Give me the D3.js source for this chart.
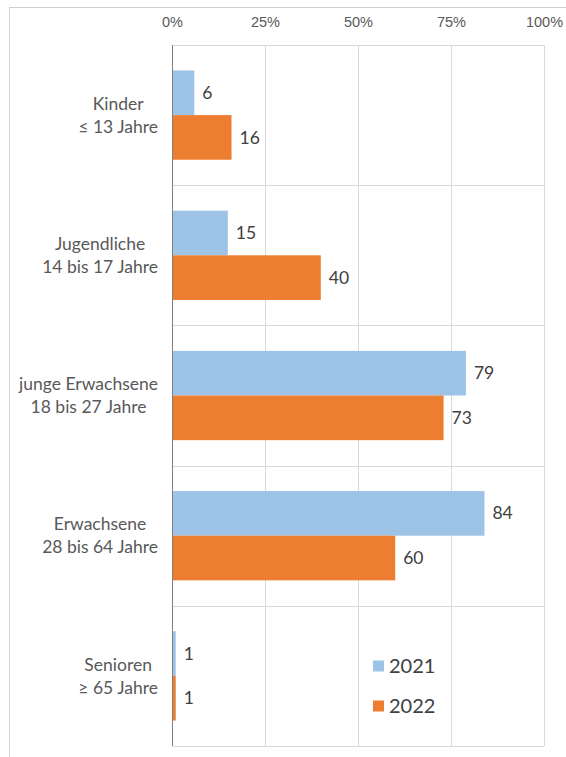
<!DOCTYPE html>
<html>
<head>
<meta charset="utf-8">
<script src="https://cdn.jsdelivr.net/npm/d3@7"></script>
<style>
  html, body { margin: 0; padding: 0; background: #fff; }
  svg { display: block; font-family: Lato, "Open Sans", sans-serif; }
</style>
</head>
<body>
<svg id="chart" width="566" height="757"></svg>
<script>
/* ---- data ------------------------------------------------------ */
const categories = [
  ["Kinder", "≤ 13 Jahre"],
  ["Jugendliche", "14 bis 17 Jahre"],
  ["junge Erwachsene", "18 bis 27 Jahre"],
  ["Erwachsene", "28 bis 64 Jahre"],
  ["Senioren", "≥ 65 Jahre"]
];
const seriesNames = ["2021", "2022"];
const values2021 = [6, 15, 79, 84, 1];
const values2022 = [16, 40, 73, 60, 1];
const tickValues = [0, 25, 50, 75, 100];
const colours = ["#9dc3e6", "#ed7d31"];

const series = [values2021, values2022];

/* ---- layout ---------------------------------------------------- */
const svg = d3.select("#chart");
const plot = { left: 172, right: 544, top: 45, bottom: 746 };

// outer frame (cut off at right/bottom like the source image)
svg.append("rect")
  .attr("x", 9.5).attr("y", 7.5)
  .attr("width", 600).attr("height", 800)
  .attr("fill", "none")
  .attr("stroke", "#d0d0d0");

const x = d3.scaleLinear([0, 100], [plot.left, plot.right]);
const y = d3.scaleBand(categories.map((d, i) => i), [plot.top, plot.bottom]);
const ySeries = d3.scaleBand(seriesNames, [0, y.bandwidth()])
  .paddingOuter(0.57);

/* ---- grid ------------------------------------------------------ */
const grid = svg.append("g").attr("stroke", "#d9d9d9").attr("stroke-width", 1);
grid.selectAll("line.v")
  .data(tickValues.slice(1))
  .join("line")
    .attr("x1", d => Math.round(x(d)) + 0.5)
    .attr("x2", d => Math.round(x(d)) + 0.5)
    .attr("y1", plot.top)
    .attr("y2", plot.bottom);
grid.selectAll("line.h")
  .data(d3.range(categories.length + 1))
  .join("line")
    .attr("x1", plot.left)
    .attr("x2", plot.right)
    .attr("y1", d => Math.round(plot.top + d * y.step()) + 0.5)
    .attr("y2", d => Math.round(plot.top + d * y.step()) + 0.5);

/* ---- top axis -------------------------------------------------- */
const axisG = svg.append("g")
  .attr("transform", `translate(0,${plot.top})`)
  .call(d3.axisTop(x).tickValues(tickValues).tickFormat(d => d + "%").tickSize(0).tickPadding(18));
axisG.select(".domain").remove();
axisG.selectAll("text")
  .attr("fill", "#595959")
  .attr("font-size", 14.5);

/* ---- bars ------------------------------------------------------ */
const groups = svg.append("g")
  .selectAll("g")
  .data(categories.map((c, i) => i))
  .join("g")
    .attr("transform", i => `translate(0,${y(i)})`);

groups.selectAll("rect")
  .data(i => seriesNames.map((s, k) => ({ s, k, v: series[k][i] })))
  .join("rect")
    .attr("x", x(0))
    .attr("y", d => ySeries(d.s))
    .attr("width", d => x(d.v) - x(0))
    .attr("height", ySeries.bandwidth())
    .attr("fill", d => colours[d.k]);

groups.selectAll("text.val")
  .data(i => seriesNames.map((s, k) => ({ s, k, v: series[k][i] })))
  .join("text")
    .attr("class", "val")
    .attr("x", d => x(d.v) + 8)
    .attr("y", d => ySeries(d.s) + ySeries.bandwidth() / 2)
    .attr("dy", "0.35em")
    .attr("fill", "#404040")
    .attr("font-size", 17.5)
    .text(d => d.v);

/* ---- 0 axis line ----------------------------------------------- */
svg.append("line")
  .attr("x1", x(0) + 0.5).attr("x2", x(0) + 0.5)
  .attr("y1", plot.top).attr("y2", plot.bottom)
  .attr("stroke", "#808080");

/* ---- category labels ------------------------------------------- */
const lab = svg.append("g")
  .selectAll("text")
  .data(categories)
  .join("text")
    .attr("text-anchor", "middle")
    .attr("fill", "#595959")
    .attr("font-size", 17.5);

lab.each(function (lines, i) {
  const t = d3.select(this);
  const cy = y(i) + y.bandwidth() / 2;
  lines.forEach((line, j) => {
    t.append("tspan")
      .attr("y", cy + (j - 0.5) * 23)
      .attr("dy", "0.35em")
      .text(line);
  });
  // block right-aligned at a fixed edge, lines centred inside it
  const w = d3.max(t.selectAll("tspan").nodes(), n => n.getComputedTextLength());
  t.selectAll("tspan").attr("x", 158 - w / 2);
});

/* ---- legend ---------------------------------------------------- */
const legend = svg.append("g")
  .selectAll("g")
  .data(seriesNames)
  .join("g")
    .attr("transform", (d, k) => `translate(373,${666 + k * 40})`);
legend.append("rect")
  .attr("x", 0).attr("y", -5.5)
  .attr("width", 11).attr("height", 11)
  .attr("fill", (d, k) => colours[k]);
legend.append("text")
  .attr("x", 16)
  .attr("dy", "0.36em")
  .attr("fill", "#404040")
  .attr("font-size", 20)
  .text(d => d);
</script>
</body>
</html>
